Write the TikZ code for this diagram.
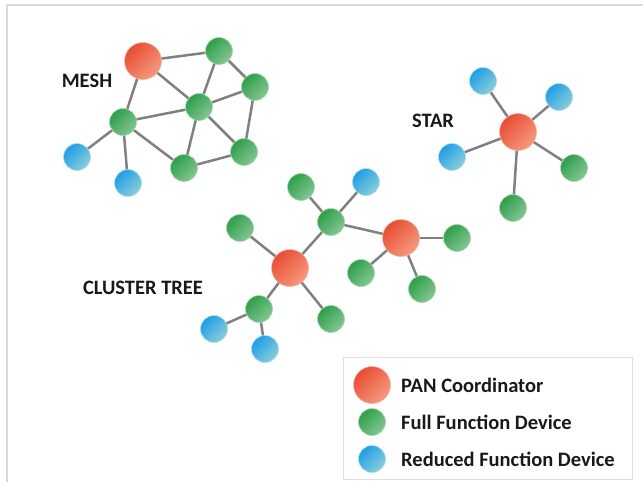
\documentclass[tikz,border=0pt]{standalone}
\usepackage{fontspec}
\setmainfont{Carlito}
\definecolor{redA}{HTML}{E94C35}
\definecolor{redB}{HTML}{F59A7C}
\definecolor{redE}{HTML}{F7B3A4}
\definecolor{grnA}{HTML}{2E9E48}
\definecolor{grnB}{HTML}{84C694}
\definecolor{grnE}{HTML}{A8D8B0}
\definecolor{bluA}{HTML}{1F9DE6}
\definecolor{bluB}{HTML}{8ACFD9}
\definecolor{bluE}{HTML}{A9DDF2}
\begin{document}
\begin{tikzpicture}[x=1pt,y=-1pt,
  link/.style={draw=black!50, line width=2.5pt},
  pan/.style={circle, minimum size=37pt, inner sep=0pt, draw=redE, line width=0.6pt,
     top color=redA, bottom color=redB, shading angle=45},
  ffd/.style={circle, minimum size=27pt, inner sep=0pt, draw=grnE, line width=0.6pt,
     top color=grnA, bottom color=grnB, shading angle=45},
  rfd/.style={circle, minimum size=27pt, inner sep=0pt, draw=bluE, line width=0.6pt,
     top color=bluA, bottom color=bluB, shading angle=45},
  lbl/.style={font=\bfseries\fontsize{20.5}{23}\selectfont, text=black!90, inner sep=0pt},
  frame/.style={draw=black!15, line width=2pt}
]
\useasboundingbox (0,0) rectangle (643,482);
\coordinate (fa) at (7,482);
\coordinate (fb) at (7,5);
\coordinate (fc) at (643,5);
\draw[frame] (fa) -- (fb) -- (fc);

% MESH
\node[pan] (r1) at (143,61) {};
\node[ffd] (g1) at (219,51) {};
\node[ffd] (g2) at (255,87) {};
\node[ffd] (g3) at (199,107) {};
\node[ffd] (g4) at (123,122) {};
\node[ffd] (g5) at (244,152) {};
\node[ffd] (g6) at (184,168) {};
\node[rfd] (b1) at (77,157) {};
\node[rfd] (b2) at (128,183) {};
\node[lbl] (tmesh) at (87,81) {MESH};

% STAR
\node[pan] (r2) at (518,132) {};
\node[rfd] (b3) at (483,81) {};
\node[rfd] (b4) at (559,97) {};
\node[rfd] (b5) at (452,157) {};
\node[ffd] (g7) at (574,168) {};
\node[ffd] (g8) at (513,208) {};
\node[lbl] (tstar) at (433,121) {STAR};

% CLUSTER TREE
\node[ffd] (g9) at (301,187) {};
\node[rfd] (b6) at (366,182) {};
\node[ffd] (g10) at (240,228) {};
\node[ffd] (g11) at (331,222) {};
\node[pan] (r3) at (401,238) {};
\node[ffd] (g12) at (457,238) {};
\node[pan] (r4) at (290,268) {};
\node[ffd] (g13) at (361,273) {};
\node[ffd] (g14) at (422,289) {};
\node[ffd] (g15) at (259,309) {};
\node[ffd] (g16) at (331,319) {};
\node[rfd] (b7) at (214,329) {};
\node[rfd] (b8) at (265,349) {};
\node[lbl] (ttree) at (143,288) {CLUSTER TREE};

\foreach \a/\b in {r1/g1,r1/g3,r1/g4,g1/g2,g1/g3,g2/g3,g2/g5,g3/g4,g3/g5,g3/g6,g4/g6,g5/g6,g4/b1,g4/b2,
  r2/b3,r2/b4,r2/b5,r2/g7,r2/g8,
  g9/g11,b6/g11,g11/r4,g11/r3,g10/r4,r4/g15,r4/g16,r3/g12,r3/g13,r3/g14,g15/b7,g15/b8}
  \draw[link] (\a) -- (\b);

% Legend
\node[draw=black!12, line width=1pt, minimum width=289pt, minimum height=122pt, inner sep=0pt] (legend) at (487.5,418) {};
\node[pan] (lp) at (372,385) {};
\node[ffd] (lf) at (372,422) {};
\node[rfd] (lr) at (372,459) {};
\node[lbl, anchor=west] (tp) at (401,385) {PAN Coordinator};
\node[lbl, anchor=west] (tf) at (401,422) {Full Function Device};
\node[lbl, anchor=west] (tr) at (401,459) {Reduced Function Device};
\end{tikzpicture}
\end{document}
